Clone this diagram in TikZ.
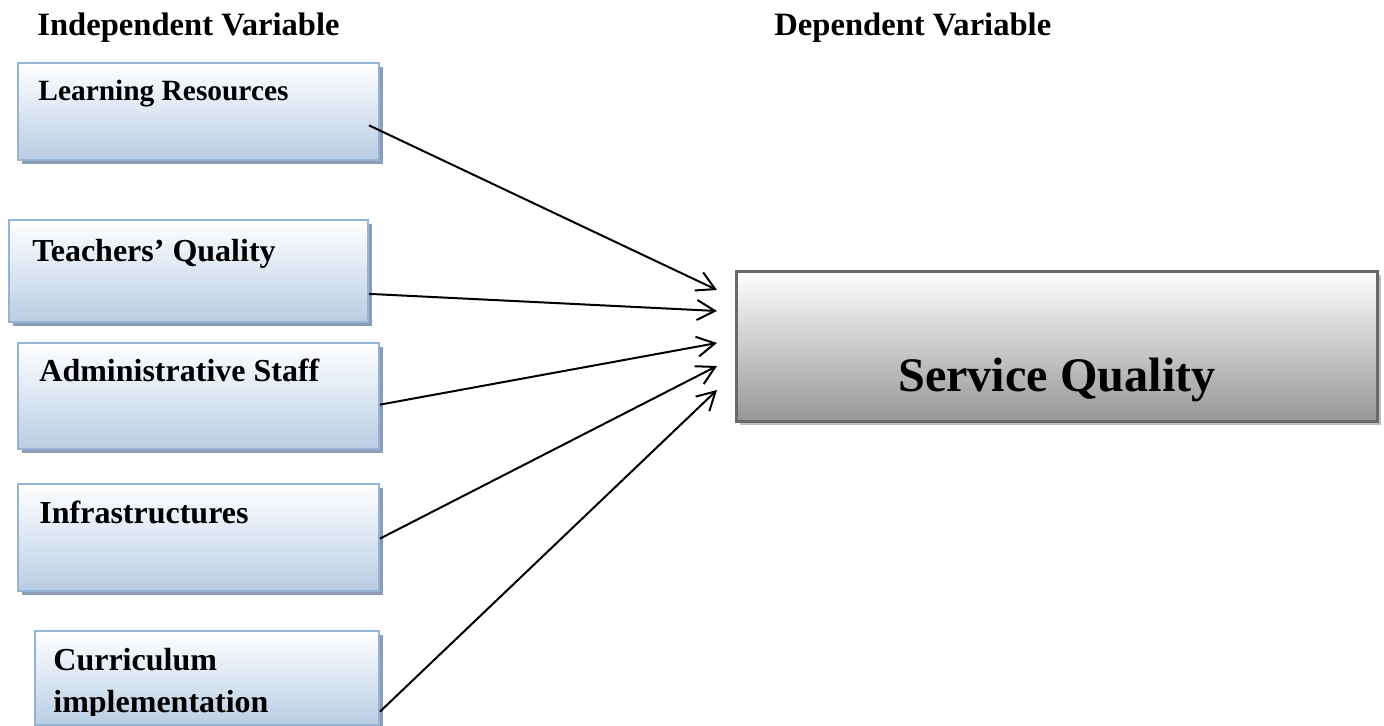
\documentclass[tikz,border=0pt]{standalone}
\usepackage{fontspec}
\setmainfont{Liberation Serif}
\usepackage{tikz}
\usetikzlibrary{arrows.meta,calc,shadows}
\definecolor{ivborder}{RGB}{149,179,215}
\definecolor{ivfill}{RGB}{185,205,228}
\definecolor{ivshadow}{RGB}{140,156,180}
\definecolor{dvborder}{RGB}{105,105,105}
\definecolor{dvfill}{RGB}{150,150,150}
\definecolor{dvshadow}{RGB}{190,190,190}
\tikzstyle{ivbox} = [rectangle, anchor=north west, draw=ivborder, line width=1pt, top color=white, bottom color=ivfill, drop shadow={shadow xshift=2pt, shadow yshift=-2pt, fill=ivshadow, opacity=1}]
\tikzstyle{dvbox} = [rectangle, anchor=north west, draw=dvborder, line width=1.4pt, top color=white, bottom color=dvfill, drop shadow={shadow xshift=2pt, shadow yshift=-2pt, fill=dvshadow, opacity=1}]
\tikzstyle{ivtext} = [anchor=base west, inner sep=0pt, align=left, font=\fontsize{16}{21}\selectfont\bfseries]
\tikzstyle{dvtext} = [anchor=base, inner sep=0pt, font=\fontsize{24.1}{28}\selectfont\bfseries]
\tikzstyle{heading} = [anchor=base west, inner sep=0pt, font=\fontsize{16.3}{21}\selectfont\bfseries]
\tikzstyle{arrow} = [line width=1pt, -{Straight Barb[length=9pt,width=10pt]}]
\begin{document}
\begin{tikzpicture}[x=0.5pt,y=-0.5pt]
\useasboundingbox (0,0) rectangle (1384,726);
\node (indep) [heading] at (37,36) {Independent Variable};
\node (dep) [heading] at (774,36) {Dependent Variable};

\node (learning) [ivbox, minimum width=180.5pt, minimum height=48.5pt] at (17,62) {};
\node (teachers) [ivbox, minimum width=179.5pt, minimum height=51pt] at (8,219) {};
\node (admin) [ivbox, minimum width=180.5pt, minimum height=53pt] at (17,342) {};
\node (infra) [ivbox, minimum width=180.5pt, minimum height=53.5pt] at (17,483) {};
\node (curric) [ivbox, minimum width=172pt, minimum height=47pt] at (34,630) {};
\node (service) [dvbox, minimum width=320.5pt, minimum height=75pt] at (735,270) {};

\node (learningtext) [ivtext, font=\fontsize{14.7}{21}\selectfont\bfseries] at ([shift={(21,39)}]learning.north west) {Learning Resources};
\node (teacherstext) [ivtext] at ([shift={(24,43)}]teachers.north west) {Teachers’ Quality};
\node (admintext) [ivtext] at ([shift={(22,40)}]admin.north west) {Administrative Staff};
\node (infratext) [ivtext] at ([shift={(22,40)}]infra.north west) {Infrastructures};
\begin{scope}
\clip (curric.north west) rectangle ([yshift=5.5pt]curric.south east);
\node (currictext) [ivtext] at ([shift={(19,82)}]curric.north west) {Curriculum\\implementation};
\end{scope}
\node (servicetext) [dvtext] at ([yshift=-22.5pt]service.center) {Service Quality};

\coordinate (in1) at ([shift={(-18,20)}]service.north west);
\coordinate (in2) at ([shift={(-18,41)}]service.north west);
\coordinate (in3) at ([shift={(-18,73)}]service.north west);
\coordinate (in4) at ([shift={(-18,96)}]service.north west);
\coordinate (in5) at ([shift={(-18,120)}]service.north west);

\draw [arrow] ($(learning.north east)!0.64!(learning.south east)+(-11,0)$) -- (in1);
\draw [arrow] ($(teachers.north east)!0.72!(teachers.south east)$) -- (in2);
\draw [arrow] ($(admin.north east)!0.58!(admin.south east)$) -- (in3);
\draw [arrow] ($(infra.north east)!0.51!(infra.south east)$) -- (in4);
\draw [arrow] ($(curric.north east)!0.85!(curric.south east)$) -- (in5);
\end{tikzpicture}
\end{document}
